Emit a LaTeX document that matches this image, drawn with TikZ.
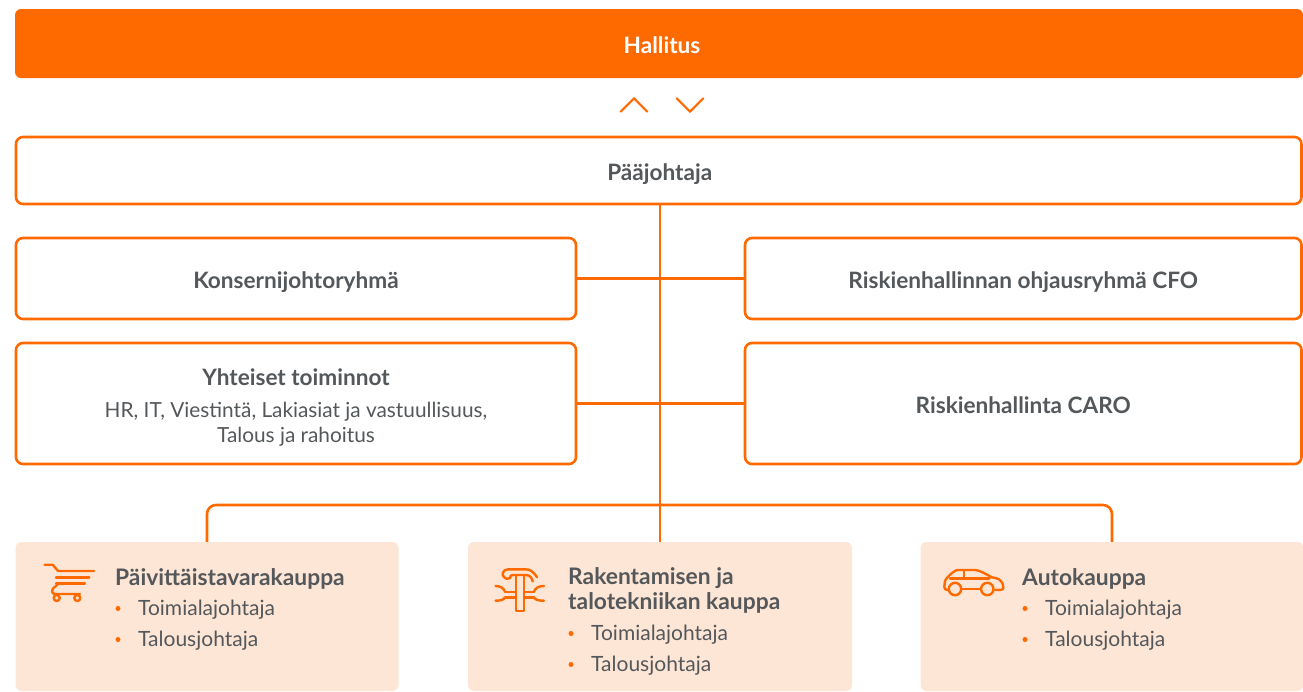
\documentclass[tikz,border=0pt]{standalone}
\usepackage{fontspec}
\setmainfont{Lato}
\definecolor{hkorange}{HTML}{FF6A00}
\definecolor{hkpeach}{HTML}{FDE6D6}
\definecolor{hkgray}{HTML}{54585B}
\tikzset{
    linebox/.style={draw=hkorange, line width=2.6pt, rounded corners=7pt, fill=white, text=hkgray, font=\fontsize{22.6}{27}\selectfont\bfseries, align=center, text height=19pt, text depth=0pt},
    conn/.style={draw=hkorange, line width=2.6pt},
    shopbox/.style={fill=hkpeach, rounded corners=6pt, minimum width=383pt, minimum height=149pt},
    shoptitle/.style={anchor=base west, inner sep=0pt, text=hkgray, font=\fontsize{22.8}{25}\selectfont\bfseries, align=left},
    shopitem/.style={anchor=base west, inner sep=0pt, text=hkgray, font=\fontsize{21}{24}\selectfont},
    dot/.style={circle, fill=hkorange, inner sep=0pt, minimum size=5pt},
    icon/.style={draw=hkorange, line width=2.4pt, line cap=round, line join=round},
}
\begin{document}
\begin{tikzpicture}[x=1pt, y=-1pt]
        \useasboundingbox (0,0) rectangle (1303,691);
        \node[fill=hkorange, rounded corners=6pt, minimum width=1288pt, minimum height=69pt] (hallitus) at (659,43.5) {};
        \node[text=white, font=\fontsize{22.6}{27}\selectfont\bfseries, text height=19pt, text depth=0pt] (hallitusteksti) at (662,43.5) {Hallitus};
        \node[linebox, minimum width=1285.5pt, minimum height=67pt] (paajohtaja) at (658.75,170.5) {\hspace{2pt}Pääjohtaja};
        \node[linebox, minimum width=560pt, minimum height=81pt] (konserni) at (296,278.5) {Konsernijohtoryhmä};
        \node[linebox, minimum width=556.5pt, minimum height=81pt] (ohjaus) at (1023.25,278.5) {Riskienhallinnan ohjausryhmä CFO};
        \node[linebox, minimum width=560pt, minimum height=121pt] (yhteiset) at (296,403.5) {};
        \node[text=hkgray, font=\fontsize{22.6}{27}\selectfont\bfseries, align=center] (yhteisetteksti) at (296,407.5) {Yhteiset toiminnot\\[5pt]{\fontsize{20.8}{24}\selectfont\mdseries HR, IT, Viestintä, Lakiasiat ja vastuullisuus,}\\[-2pt]{\fontsize{20.8}{24}\selectfont\mdseries Talous ja rahoitus}};
        \node[linebox, minimum width=556.5pt, minimum height=121pt] (caro) at (1023.25,403.5) {Riskienhallinta CARO};
        \node[shopbox] (paivittais) at (207,616.5) {};
        \node[shopbox, minimum width=384pt] (rakentaminen) at (660,616.5) {};
        \node[shopbox] (auto) at (1112,616.5) {};
        \coordinate (bus) at (660,505);
        % connectors
        \draw[conn] (rakentaminen.north |- paajohtaja.south) -- (rakentaminen.north);
        \draw[conn] (konserni.east) -- (ohjaus.west);
        \draw[conn] (yhteiset.east) -- (caro.west);
        \draw[conn, rounded corners=9pt] (paivittais.north) -- (paivittais.north |- bus) -- (auto.north |- bus) -- (auto.north);
        % arrows between Hallitus and Paajohtaja
        \draw[icon, line width=2.2pt] (620.7,111.7) -- (634,98.3) -- (647.3,111.7);
        \draw[icon, line width=2.2pt] (676.7,98.3) -- (690,111.7) -- (703.3,98.3);
        % texts of the three boxes
        \node[shoptitle] (t1) at (115,585) {Päivittäistavarakauppa};
        \node[shopitem] (a1) at (138,615) {Toimialajohtaja};
        \node[shopitem] (b1) at (138,646) {Talousjohtaja};
        \node[dot] at (118,608.5) {};
        \node[dot] at (118,639.5) {};
        \node[shoptitle] (t2) at (568,609.5) {Rakentamisen ja\\talotekniikan kauppa};
        \node[shopitem] (a2) at (591,640) {Toimialajohtaja};
        \node[shopitem] (b2) at (591,671) {Talousjohtaja};
        \node[dot] at (571,633.5) {};
        \node[dot] at (571,664.5) {};
        \node[shoptitle] (t3) at (1022,585) {Autokauppa};
        \node[shopitem] (a3) at (1045,615) {Toimialajohtaja};
        \node[shopitem] (b3) at (1045,646) {Talousjohtaja};
        \node[dot] at (1025,608.5) {};
        \node[dot] at (1025,639.5) {};
        % cart
        \draw[icon] (44.5,564.7) -- (52.7,564.7) -- (58,571) -- (94,571);
        \draw[icon] (56,577.3) -- (89.3,577.3);
        \draw[icon] (56,583.3) -- (85,583.3);
        \draw[icon] (59,583.3) -- (53.5,588) .. controls (51.5,590) and (51.5,594) .. (55,594) -- (80,594);
        \draw[icon] (56.7,598) circle (3);
        \draw[icon] (77.3,598) circle (3);
        % tools
        \draw[icon] (516,575) -- (516,610.7) -- (524,610.7) -- (524,575);
        \draw[icon] (505,591.7) -- (516,591.7) (505,597.3) -- (516,597.3) (524,591.7) -- (534,591.7) (524,597.3) -- (534,597.3);
        \draw[icon] (495.5,586) .. controls (500,586) and (504,588) .. (505,591.7) (495.5,600.7) .. controls (500,600.7) and (504,600) .. (505,597.3);
        \draw[icon] (544,586) .. controls (539,586) and (535,588) .. (534,591.7) (544,600.7) .. controls (539,600.7) and (535,600) .. (534,597.3);
        \draw[icon] (537,577.3) .. controls (533,571) and (530,569.3) .. (525,569.3) -- (508,569.3) .. controls (503,569.3) and (501,575) .. (504,577) .. controls (506,579.5) and (509,579) .. (510,578) .. controls (510,576) and (511,575) .. (513,575) -- (526,575) .. controls (530,575) and (532,578) .. (532.7,581.5);
        % car
        \draw[icon] (948,590) .. controls (945,590) and (944.3,589) .. (944.3,586.7) -- (945,581) .. controls (946,578) and (954,570) .. (958,570) -- (975,570) .. controls (979,570) and (986,574) .. (991.7,577.3) .. controls (997,578) and (1003,579) .. (1003.3,588) .. controls (1003.3,590) and (1000,590) .. (995,590);
        \draw[icon] (950,578.3) -- (989.3,578.3);
        \draw[icon] (964,570) -- (964,578.3);
        \draw[icon] (962.5,589) -- (980,589);
        \draw[icon] (955,589) circle (6.2);
        \draw[icon] (987.3,589) circle (6.2);
    \end{tikzpicture}
\end{document}
